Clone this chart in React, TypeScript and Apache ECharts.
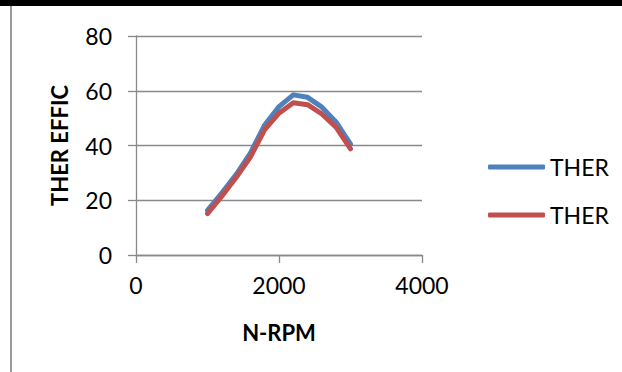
import React, { useEffect, useRef } from "react";
import * as echarts from "echarts";

// Engine speed (rpm) and thermal efficiency (%) for the two runs
const rpm = [1000, 1200, 1400, 1600, 1800, 2000, 2200, 2400, 2600, 2800, 3000];
const therA = [16.3, 22.6, 29.4, 37.2, 47.5, 54.2, 58.5, 57.6, 54.0, 48.5, 40.5];
const therB = [15.1, 21.5, 28.3, 35.8, 45.8, 51.8, 55.6, 54.9, 51.5, 46.6, 38.8];

const seriesNames = ["ther-a", "ther-b"];
const legendLabel = "THER";
const xTitle = "N-RPM";
const yTitle = "THER EFFIC";

const FONT = "Lato, 'Open Sans', sans-serif";
const GRID_GREY = "#898989";

export default function App() {
  const ref = useRef<HTMLDivElement>(null);

  useEffect(() => {
    if (!ref.current) return;
    const chart = echarts.init(ref.current, undefined, { renderer: "svg" });

    const toPairs = (ys: number[]) => rpm.map((x, i) => [x, ys[i]]);

    chart.setOption({
      animation: false,
      backgroundColor: "#ffffff",
      textStyle: { fontFamily: FONT, color: "#000" },
      grid: { left: 136, right: 200, top: 36, bottom: 117, containLabel: false },
      xAxis: {
        type: "value",
        min: 0,
        max: 4000,
        interval: 2000,
        name: xTitle,
        nameLocation: "middle",
        nameGap: 66,
        nameTextStyle: { fontFamily: FONT, fontSize: 22, fontWeight: "bold", color: "#000" },
        axisLine: { show: true, lineStyle: { color: GRID_GREY, width: 1.3 } },
        axisTick: { show: true, inside: false, length: 8, lineStyle: { color: GRID_GREY, width: 1.3 } },
        axisLabel: {
          fontFamily: FONT,
          fontSize: 23,
          color: "#000",
          margin: 18,
          formatter: (v: number) => String(v),
        },
        splitLine: { show: false },
      },
      yAxis: {
        type: "value",
        min: 0,
        max: 80,
        interval: 20,
        name: yTitle,
        nameLocation: "middle",
        nameRotate: 90,
        nameGap: 66,
        nameTextStyle: { fontFamily: FONT, fontSize: 22, fontWeight: "bold", color: "#000" },
        axisLine: { show: true, lineStyle: { color: GRID_GREY, width: 1.3 } },
        axisTick: { show: true, inside: false, length: 8, lineStyle: { color: GRID_GREY, width: 1.3 } },
        axisLabel: { fontFamily: FONT, fontSize: 23, color: "#000", margin: 24 },
        splitLine: { show: true, lineStyle: { color: GRID_GREY, width: 1.3 } },
      },
      legend: {
        orient: "vertical",
        left: 488,
        top: 154,
        padding: 0,
        icon: "roundRect",
        itemWidth: 57,
        itemHeight: 5,
        itemGap: 22,
        formatter: () => legendLabel,
        textStyle: { fontFamily: FONT, fontSize: 23, color: "#000", lineHeight: 26 },
        data: seriesNames,
      },
      series: [
        {
          name: seriesNames[0],
          type: "line",
          data: toPairs(therA),
          showSymbol: false,
          color: "#4f81bd",
          lineStyle: { width: 5, color: "#4f81bd", cap: "round", join: "round" },
        },
        {
          name: seriesNames[1],
          type: "line",
          data: toPairs(therB),
          showSymbol: false,
          color: "#c0504d",
          lineStyle: { width: 5, color: "#c0504d", cap: "round", join: "round" },
        },
      ],
      graphic: [
        { type: "rect", left: 0, top: 0, shape: { width: 622, height: 6 }, style: { fill: "#000" }, silent: true },
        { type: "rect", left: 10, top: 6, shape: { width: 2, height: 366 }, style: { fill: "#9a9a9a" }, silent: true },
      ],
    });

    return () => chart.dispose();
  }, []);

  return (
    <div
      ref={ref}
      style={{ position: "absolute", left: 0, top: 0, width: 622, height: 372, background: "#fff" }}
    />
  );
}
